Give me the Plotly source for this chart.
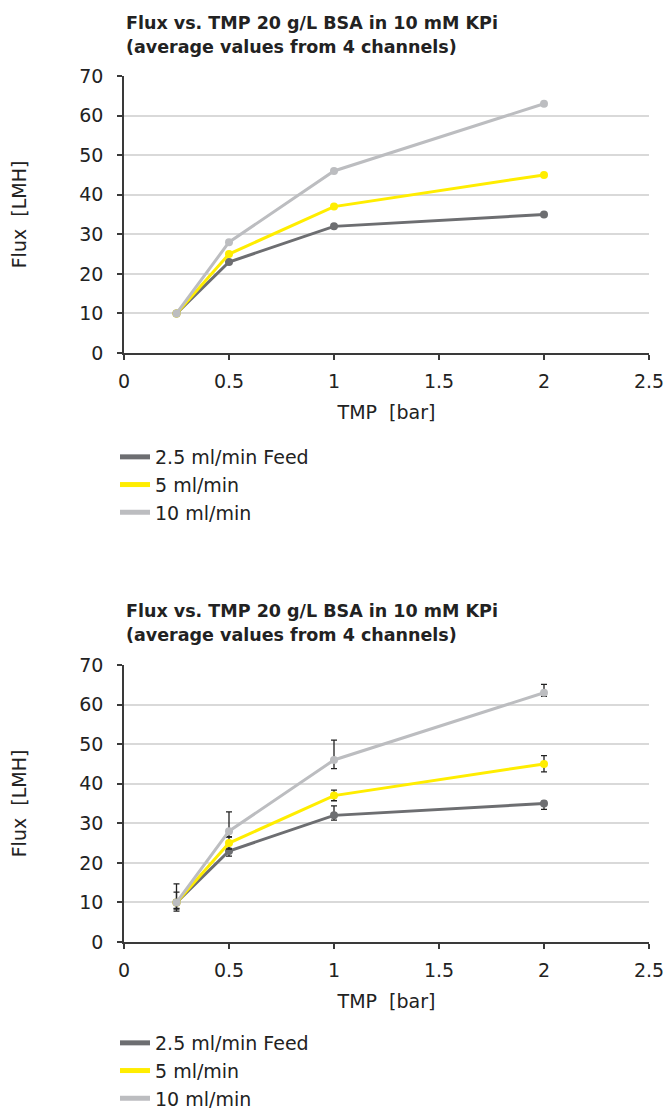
import plotly.graph_objects as go

# ---- data ----
tmp_bar = [0.25, 0.5, 1, 2]
series_names = ["2.5 ml/min Feed", "5 ml/min", "10 ml/min"]
flux_2_5 = [10, 23, 32, 35]
flux_5 = [10, 25, 37, 45]
flux_10 = [10, 28, 46, 63]
err_2_5_plus = [0.6, 0.5, 2.4, 0.5]
err_2_5_minus = [2.2, 1.3, 1.2, 1.5]
err_5_plus = [2.6, 1.5, 1.4, 2.1]
err_5_minus = [1.7, 1.5, 1.3, 2.0]
err_10_plus = [4.7, 4.9, 5.0, 2.1]
err_10_minus = [1.5, 1.4, 2.2, 0.9]
x_ticks = [0, 0.5, 1, 1.5, 2, 2.5]
x_ticklabels = ["0", "0.5", "1", "1.5", "2", "2.5"]
y_ticks = [0, 10, 20, 30, 40, 50, 60, 70]
title_lines = ["Flux vs. TMP 20 g/L BSA in 10 mM KPi", "(average values from 4 channels)"]

colors = ["#6d6e71", "#ffed00", "#bcbdc0"]
values = [flux_2_5, flux_5, flux_10]
errs = [(err_2_5_plus, err_2_5_minus), (err_5_plus, err_5_minus), (err_10_plus, err_10_minus)]

W, H = 667, 1110
ML, MR = 124, 18
PW = W - ML - MR
FONT = "DejaVu Sans"
TXT = "#222222"
FS = 19

fig = go.Figure()

for panel, (xa, ya, leg) in enumerate([("x", "y", "legend"), ("x2", "y2", "legend2")]):
    for i in range(3):
        kw = {}
        if panel == 1:
            kw["error_y"] = dict(type="data", symmetric=False,
                                 array=errs[i][0], arrayminus=errs[i][1],
                                 color="#222222", thickness=1.3, width=3)
        fig.add_trace(go.Scatter(
            x=tmp_bar, y=values[i], mode="lines+markers",
            line=dict(color=colors[i], width=3),
            marker=dict(color=colors[i], size=8),
            xaxis=xa, yaxis=ya, showlegend=False, hoverinfo="x+y", **kw))
    for i in range(3):
        fig.add_trace(go.Scatter(
            x=[None], y=[None], mode="lines", name=series_names[i],
            line=dict(color=colors[i], width=5),
            xaxis=xa, yaxis=ya, legend=leg, legendgroup=f"{panel}-{i}",
            showlegend=True))

def py(px):
    return (H - px) / H

def pxx(px):
    return (px - ML) / PW

axis_common = dict(
    showline=True, linecolor="#3a3a3a", linewidth=1.5,
    ticks="outside", ticklen=5, tickwidth=1.5, tickcolor="#3a3a3a",
    tickfont=dict(family=FONT, size=FS, color=TXT),
    zeroline=False, automargin=False,
)

xaxis_common = dict(axis_common, range=[0, 2.5], tickvals=x_ticks, ticktext=x_ticklabels,
                    showgrid=False, ticklabelstandoff=5,
                    title=dict(text="TMP\u00a0 [bar]", font=dict(family=FONT, size=FS, color=TXT), standoff=15))
yaxis_common = dict(axis_common, range=[0, 70], tickvals=y_ticks, showgrid=True,
                    gridcolor="#d9d9d9", gridwidth=1.5, ticklabelstandoff=10,
                    title=dict(text="Flux\u00a0 [LMH]", font=dict(family=FONT, size=FS, color=TXT), standoff=48))

legend_common = dict(font=dict(family=FONT, size=FS, color=TXT), bgcolor="rgba(0,0,0,0)",
                     x=pxx(115), xanchor="left", yanchor="top", tracegroupgap=0,
                     itemwidth=30, orientation="v")

annotations = []
for top in (0, 588):
    for k, line in enumerate(title_lines):
        annotations.append(dict(
            text=line, xref="paper", yref="paper", x=pxx(124), y=py(top + 23 + 24 * k),
            xanchor="left", yanchor="middle", align="left", showarrow=False,
            font=dict(family=FONT, size=17.5, color=TXT, weight=600)))

fig.update_layout(
    width=W, height=H,
    margin=dict(l=ML, r=MR, t=0, b=0, autoexpand=False),
    paper_bgcolor="white", plot_bgcolor="white",
    font=dict(family=FONT, color=TXT),
    xaxis=dict(xaxis_common, domain=[0, 1], anchor="y"),
    yaxis=dict(yaxis_common, domain=[py(353), py(76)], anchor="x"),
    xaxis2=dict(xaxis_common, domain=[0, 1], anchor="y2"),
    yaxis2=dict(yaxis_common, domain=[py(942), py(665)], anchor="x2"),
    legend=dict(legend_common, y=py(438)),
    legend2=dict(legend_common, y=py(1024)),
    annotations=annotations,
)

fig.write_html("out.html", config={"displayModeBar": False},
               post_script="document.body.style.margin='0px';")
